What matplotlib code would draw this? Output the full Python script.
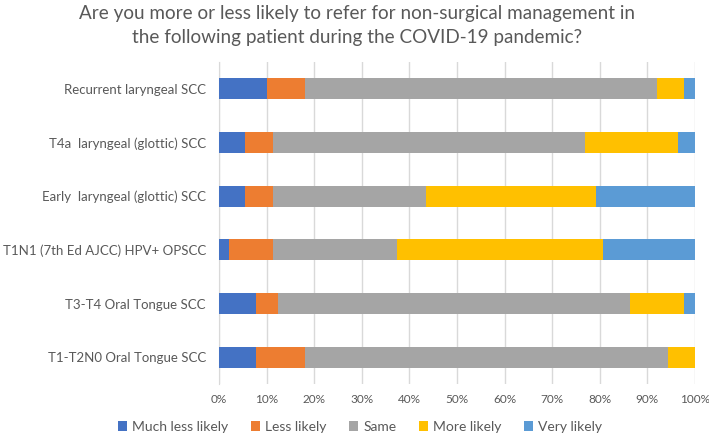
import matplotlib
matplotlib.use("Agg")
from matplotlib import pyplot as plt
import numpy as np

plt.rcParams['font.family'] = ['Lato', 'DejaVu Sans']

# Categories, top to bottom as drawn
categories = ['Recurrent laryngeal SCC',
              'T4a  laryngeal (glottic) SCC',
              'Early  laryngeal (glottic) SCC',
              'T1N1 (7th Ed AJCC) HPV+ OPSCC',
              'T3-T4 Oral Tongue SCC',
              'T1-T2N0 Oral Tongue SCC']

# Percentages
much_less = [10.1, 5.5, 5.5, 2.2, 7.8, 7.8]
less = [8.0, 5.8, 5.8, 9.1, 4.6, 10.3]
same = [73.9, 65.6, 32.2, 26.1, 74.0, 76.3]
more = [5.7, 19.6, 35.6, 43.3, 11.3, 5.7]
very = [2.3, 3.4, 20.8, 19.3, 2.3, 0.0]

series_names = ['Much less likely', 'Less likely', 'Same', 'More likely', 'Very likely']
colors = ['#4472C4', '#ED7D31', '#A5A5A5', '#FFC000', '#5B9BD5']
text_col = '#595959'

fig = plt.figure(figsize=(7.09, 4.36), dpi=100)
ax = fig.add_axes([219 / 709, 1 - 384 / 436, 476 / 709, 322 / 436])

y = np.arange(len(categories))
left = np.zeros(len(categories))
for name, vals, c in zip(series_names, [much_less, less, same, more, very], colors):
    ax.barh(y, vals, left=left, height=0.39, color=c, label=name, zorder=3)
    left += np.array(vals)

ax.set_xlim(0, 100)
ax.set_ylim(5.5, -0.5)
ax.set_yticks(y)
ax.set_yticklabels(categories, fontsize=9.5, color=text_col)
ax.set_xticks(np.arange(0, 101, 10))
ax.set_xticklabels([f'{v}%' for v in range(0, 101, 10)], fontsize=8.5, color=text_col)
ax.tick_params(axis='both', length=0)
ax.tick_params(axis='y', pad=9.5)
ax.tick_params(axis='x', pad=7)
ax.grid(axis='x', color='#D9D9D9', linewidth=1, zorder=0)
for s in ['top', 'right', 'bottom']:
    ax.spines[s].set_visible(False)
ax.spines['left'].set_color('#D9D9D9')

fig.text(0.503, 1 - 13 / 436, 'Are you more or less likely to refer for non-surgical management in',
         ha='center', va='center', fontsize=13.6, color=text_col)
fig.text(0.503, 1 - 37 / 436, 'the following patient during the COVID-19 pandemic?',
         ha='center', va='center', fontsize=13.6, color=text_col)

fig.legend(loc='center', bbox_to_anchor=(360 / 709, 1 - 427 / 436), ncol=5, frameon=False,
           fontsize=10, labelcolor=text_col, handlelength=0.65, handleheight=0.65,
           handletextpad=0.4, columnspacing=1.6)

fig.savefig('out.png', dpi=100)
